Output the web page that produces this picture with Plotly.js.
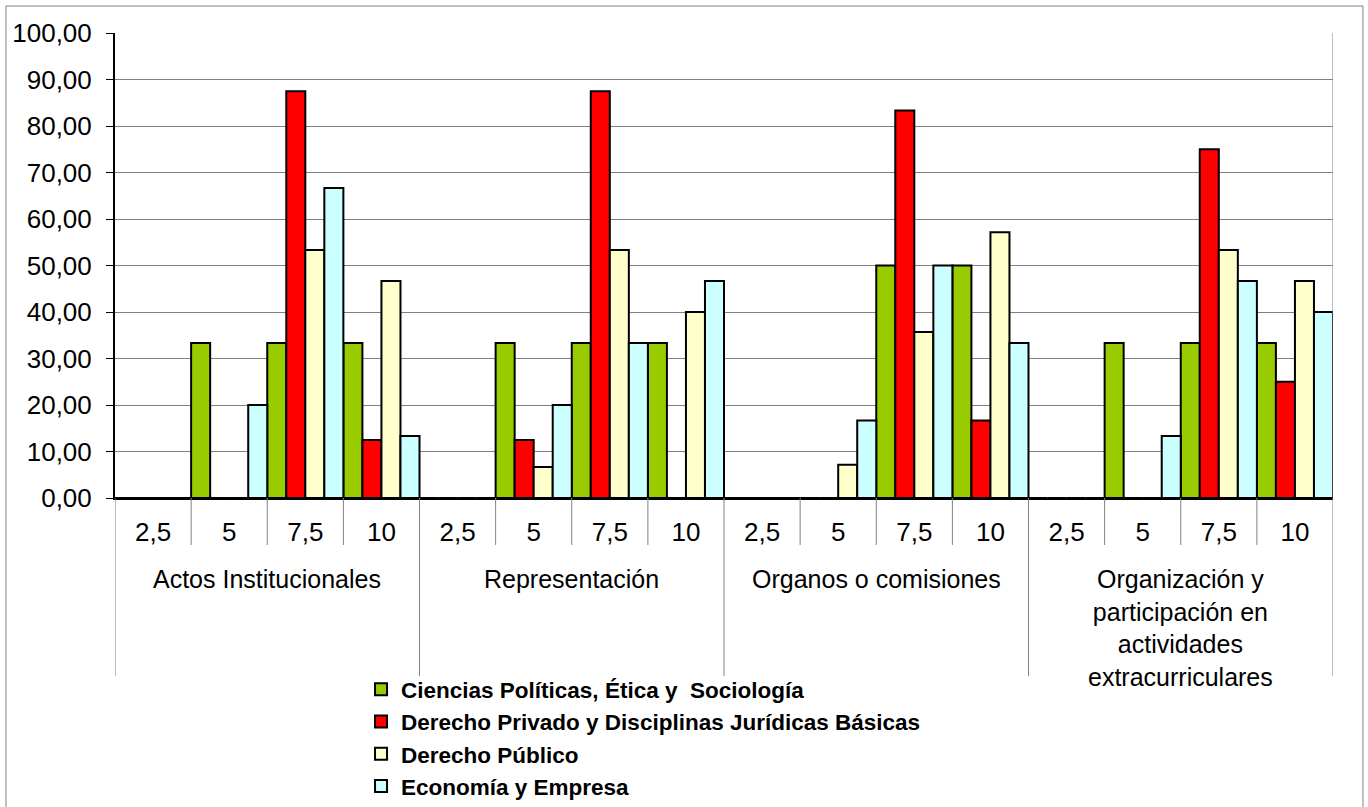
<!DOCTYPE html>
<html>
<head>
<meta charset="utf-8">
<script src="https://cdn.plot.ly/plotly-3.0.1.min.js"></script>
<style>
  html, body { margin: 0; padding: 0; background: #fff; }
  #chart { width: 1368px; height: 807px; }
</style>
</head>
<body>
<div id="chart"></div>
<script>
const groups = ['Actos Institucionales', 'Representación', 'Organos o comisiones',
  'Organización y<br>participación en<br>actividades<br>extracurriculares'];
const subLabels = ['2,5', '5', '7,5', '10'];
const seriesNames = ['Ciencias Políticas, Ética y  Sociología',
  'Derecho Privado y Disciplinas Jurídicas Básicas',
  'Derecho Público',
  'Economía y Empresa'];
// values ordered by group then sub-category (2,5, 5, 7,5, 10)
const cienciasPoliticas = [0, 33.33, 33.33, 33.33,  0, 33.33, 33.33, 33.33,  0, 0, 50, 50,  0, 33.33, 33.33, 33.33];
const derechoPrivado    = [0, 0, 87.5, 12.5,        0, 12.5, 87.5, 0,        0, 0, 83.33, 16.67,  0, 0, 75, 25];
const derechoPublico    = [0, 0, 53.33, 46.67,      0, 6.67, 53.33, 40,      0, 7.14, 35.71, 57.14,  0, 0, 53.33, 46.67];
const economiaEmpresa   = [0, 20, 66.67, 13.33,     0, 20, 33.33, 46.67,     0, 16.67, 50, 33.33,  0, 13.33, 46.67, 40];
const seriesValues = [cienciasPoliticas, derechoPrivado, derechoPublico, economiaEmpresa];
const colors = ['#99CC00', '#FF0000', '#FFFFCC', '#CCFFFF'];

const idx = [];
const tickText = [];
groups.forEach((g, gi) => subLabels.forEach((s, si) => { idx.push(gi * subLabels.length + si); tickText.push(s); }));

const traces = seriesValues.map((vals, k) => ({
  type: 'bar',
  x: idx,
  y: vals,
  name: seriesNames[k],
  marker: { color: colors[k], line: { color: '#000000', width: 2 } },
  hoverinfo: 'x+y+name'
}));

const FONT = 'Arial, "Liberation Sans", sans-serif';
const shapes = [];
const annotations = [];
const n = idx.length;
for (let k = 0; k <= n; k++) {
  const isGroup = k % subLabels.length === 0;
  shapes.push({
    type: 'line', xref: 'x', yref: 'paper',
    x0: k - 0.5, x1: k - 0.5, y0: 0, y1: isGroup ? -0.383 : -0.101,
    line: { color: '#808080', width: 1 }
  });
}
// right border of plot area
shapes.push({ type: 'line', xref: 'x', yref: 'paper', x0: n - 0.5, x1: n - 0.5, y0: 0, y1: 1,
  line: { color: '#808080', width: 1 } });
// outer chart border
shapes.push({ type: 'rect', xref: 'paper', yref: 'paper',
  x0: -0.0895, x1: 1.0246, y0: -0.70, y1: 1.058,
  line: { color: '#808080', width: 1 }, fillcolor: 'rgba(0,0,0,0)', layer: 'below' });

groups.forEach((g, gi) => {
  annotations.push({
    xref: 'x', yref: 'paper',
    x: gi * subLabels.length + (subLabels.length - 1) / 2,
    y: -0.140, yanchor: 'top', xanchor: 'center',
    text: g, showarrow: false, align: 'center',
    font: { family: FONT, size: 25, color: '#000' }
  });
});

const layout = {
  width: 1368, height: 807,
  margin: { l: 115, r: 35, t: 33, b: 309, pad: 0, autoexpand: false },
  paper_bgcolor: '#ffffff', plot_bgcolor: '#ffffff',
  separators: ',.',
  barmode: 'group', bargap: 0, bargroupgap: 0,
  font: { family: FONT, size: 24, color: '#000' },
  xaxis: {
    range: [-0.5, n - 0.5],
    tickmode: 'array', tickvals: idx, ticktext: tickText,
    ticks: 'outside', ticklen: 10, tickcolor: 'rgba(0,0,0,0)',
    showgrid: false, zeroline: false,
    showline: true, linecolor: '#000', linewidth: 2,
    tickfont: { family: FONT, size: 26, color: '#000' },
    automargin: false,
    fixedrange: true
  },
  yaxis: {
    range: [0, 100], dtick: 10, tick0: 0, tickformat: '.2f',
    ticks: 'outside', ticklen: 7, tickcolor: '#000', tickwidth: 1,
    ticklabelstandoff: 9,
    showgrid: true, gridcolor: '#808080', gridwidth: 1,
    zeroline: false,
    showline: true, linecolor: '#000', linewidth: 2,
    tickfont: { family: FONT, size: 26, color: '#000' },
    automargin: false,
    fixedrange: true
  },
  showlegend: true,
  legend: {
    orientation: 'v', x: 0.202, xanchor: 'left', y: -0.366, yanchor: 'top',
    font: { family: FONT, size: 22.5, color: '#000', weight: 'bold' },
    bgcolor: 'rgba(0,0,0,0)', tracegroupgap: 0, traceorder: 'normal',
    itemwidth: 30
  },
  shapes: shapes,
  annotations: annotations
};

Plotly.newPlot('chart', traces, layout, { displayModeBar: false, staticPlot: true });
</script>
</body>
</html>
